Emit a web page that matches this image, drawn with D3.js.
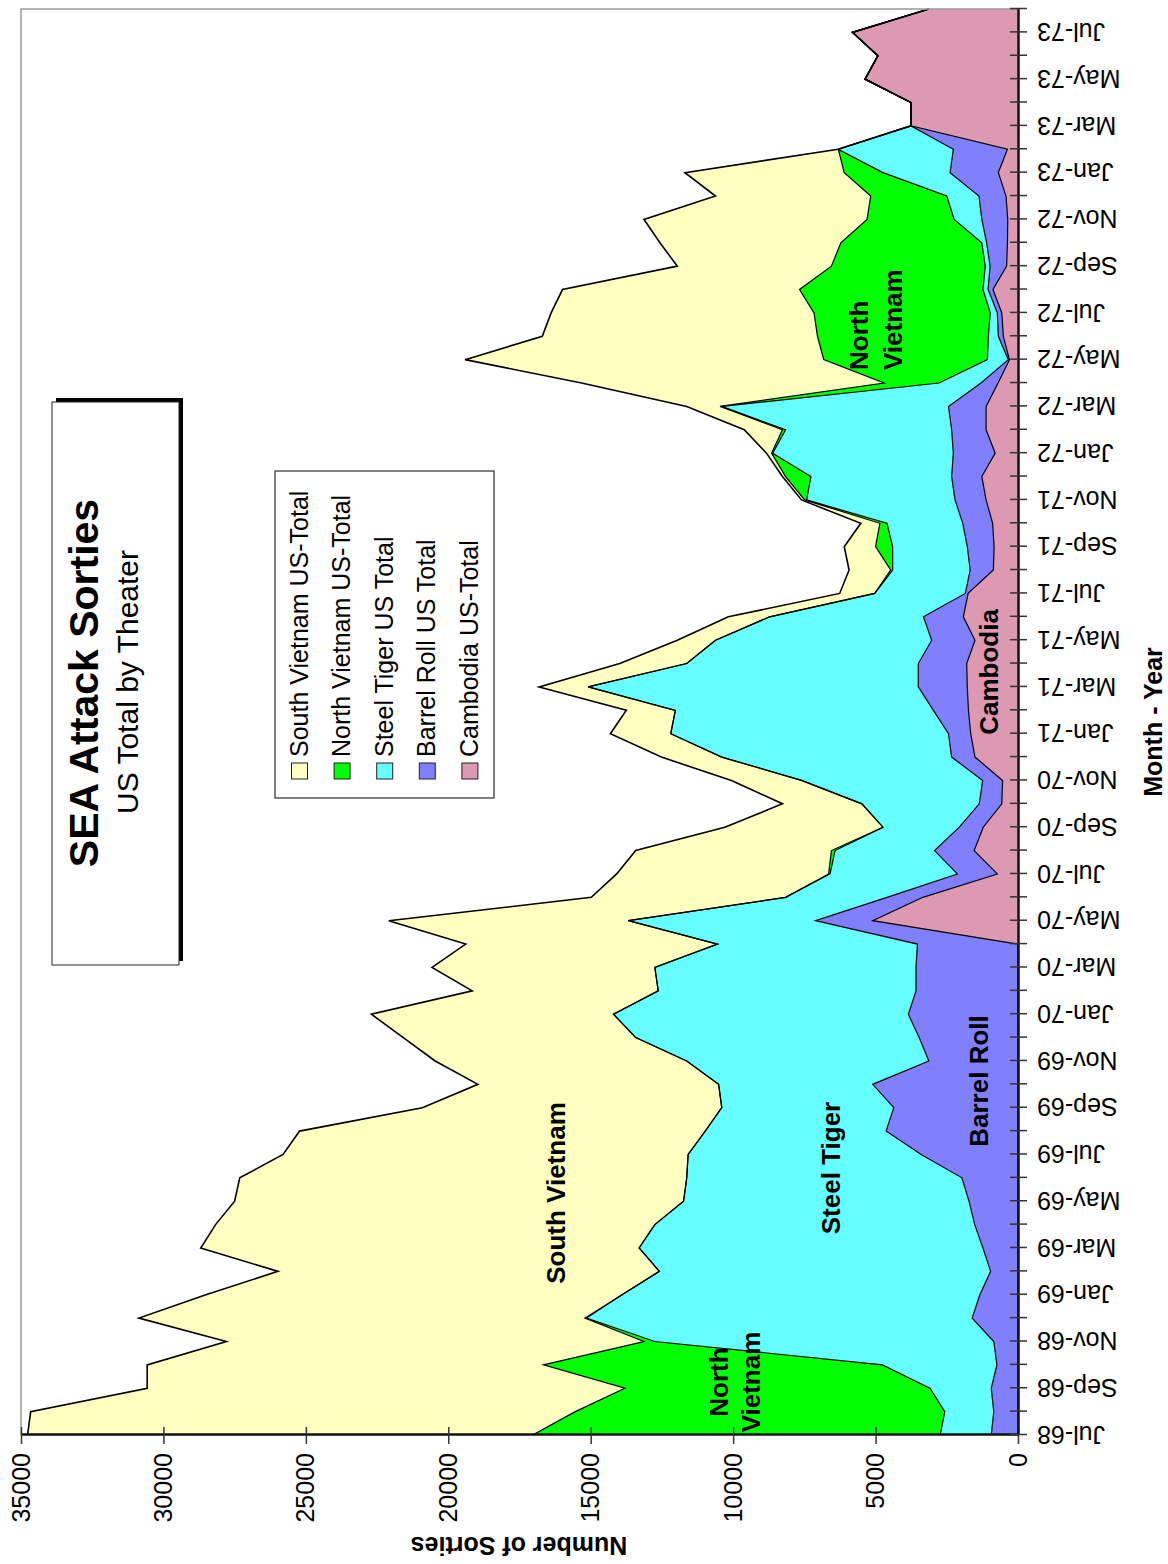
<!DOCTYPE html>
<html><head><meta charset="utf-8">
<script src="https://cdn.jsdelivr.net/npm/d3@7"></script>
<style>body{margin:0;background:#fff}svg{display:block}text{font-family:"Liberation Sans",Arial,sans-serif}</style>
</head><body>
<svg id="c" width="1168" height="1564"></svg>
<script>
const months = ["Jul-68","Aug-68","Sep-68","Oct-68","Nov-68","Dec-68",
"Jan-69","Feb-69","Mar-69","Apr-69","May-69","Jun-69","Jul-69","Aug-69","Sep-69","Oct-69","Nov-69","Dec-69",
"Jan-70","Feb-70","Mar-70","Apr-70","May-70","Jun-70","Jul-70","Aug-70","Sep-70","Oct-70","Nov-70","Dec-70",
"Jan-71","Feb-71","Mar-71","Apr-71","May-71","Jun-71","Jul-71","Aug-71","Sep-71","Oct-71","Nov-71","Dec-71",
"Jan-72","Feb-72","Mar-72","Apr-72","May-72","Jun-72","Jul-72","Aug-72","Sep-72","Oct-72","Nov-72","Dec-72",
"Jan-73","Feb-73","Mar-73","Apr-73","May-73","Jun-73","Jul-73","Aug-73"];

const southVietnam = [17730,19120,16770,13910,14660,15660,14610,13390,15390,15420,15760,15690,14220,14240,10510,8450,8830,8160,8500,6530,7820,8840,8410,6820,7440,6870,5550,2790,2460,2120,2120,1720,1720,2350,1340,1450,1230,1460,1100,670,110,110,180,1340,1170,10620,12590,9660,9230,8320,5410,6350,7830,5450,5590,0,0,0,0,0,0,0];
const northVietnam = [14310,12970,10710,11900,380,50,0,0,0,0,0,0,0,0,0,0,0,0,0,0,0,0,0,0,50,130,0,0,0,0,0,0,0,0,0,0,0,70,600,250,70,890,40,110,60,1930,5745,6000,6185,6440,5400,4950,3060,2670,1360,0,0,0,0,0,0,0];
const steelTiger = [1790,1720,2150,4020,11900,13540,12560,11630,12070,11230,10020,9660,8180,6350,6040,5410,8500,9950,10350,9050,9170,7020,6570,3560,4470,3490,2680,4120,6360,8070,9750,9060,11590,8130,7590,5400,3180,2720,2620,2660,5210,4940,6340,5830,7960,1470,735,350,250,180,170,170,970,1130,2355,4040,0,0,0,0,0,0];
const barrelRoll = [940,850,940,740,850,1610,1340,960,1230,1520,1720,1970,3400,4630,4360,5100,3130,3470,3850,3580,3580,3530,2010,1260,1405,1390,840,790,700,820,780,1230,1720,1700,1520,1400,100,815,940,1050,1090,1060,1470,1210,1320,600,40,175,155,170,580,730,910,950,1695,1900,0,0,0,0,0,0];
const cambodia = [0,0,0,0,0,0,0,0,0,0,0,0,0,0,0,0,0,0,0,0,0,0,5100,3340,725,1540,1220,570,540,1510,1660,1740,1780,1800,1510,1920,1750,865,840,890,1120,1270,800,1120,1120,700,300,515,570,880,400,370,360,420,690,370,3760,3760,5370,4920,5810,3130];

const valueTicks = [0,5000,10000,15000,20000,25000,30000,35000];
const legendNames = ["South Vietnam US-Total","North Vietnam US-Total","Steel Tiger US Total","Barrel Roll US Total","Cambodia US-Total"];
const stackKeys = ["cam","br","st","nv","sv"];
const colorMap = {sv:"#FFFFC0", nv:"#00FF00", st:"#66FFFF", br:"#8080FF", cam:"#DD99B2"};
const legendKeys = ["sv","nv","st","br","cam"];

const rows = months.map((m,i)=>({i, sv:southVietnam[i], nv:northVietnam[i], st:steelTiger[i], br:barrelRoll[i], cam:cambodia[i]}));

const svg = d3.select("#c");
svg.append("rect").attr("width",1168).attr("height",1564).attr("fill","#fff");
// whole chart is drawn in a landscape frame (1564 x 1168) and turned 90 degrees
const g = svg.append("g").attr("transform","translate(0,1564) rotate(-90)");

const x = d3.scaleLinear().domain([0, months.length-1]).range([129,1555]);
const y = d3.scaleLinear().domain([0,35000]).range([1018,21]);

const stacked = d3.stack().keys(stackKeys)(rows);
const area = d3.area().x(d=>x(d.data.i)).y0(d=>y(d[0])).y1(d=>y(d[1]));
const line = d3.line().x(d=>x(d.data.i)).y(d=>y(d[1]));

g.selectAll("path.area").data(stacked).join("path").attr("class","area")
  .attr("d",area).attr("fill",d=>colorMap[d.key]).attr("stroke","none");
g.selectAll("path.edge").data(stacked).join("path").attr("class","edge")
  .attr("d",line).attr("fill","none").attr("stroke","#000")
  .attr("stroke-width",d=>d.key==="sv"?1.6:1.2).attr("stroke-linejoin","miter");

// plot frame (gray) on far sides
g.append("path").attr("d",`M129,${y(35000)}H${x(months.length-1)}V${y(0)}`)
  .attr("fill","none").attr("stroke","#999").attr("stroke-width",1.5);

// value axis
const ya = g.append("g").attr("transform","translate(129,0)")
  .call(d3.axisLeft(y).tickValues(valueTicks).tickSizeInner(9).tickSizeOuter(0).tickPadding(9).tickFormat(d3.format("d")));
ya.select(".domain").attr("stroke","#111").attr("stroke-width",2.5);
ya.selectAll(".tick line").attr("x1",8).attr("stroke","#333").attr("stroke-width",1.5);
ya.selectAll(".tick text").attr("font-size",25).attr("fill","#000").style("font-family","'Liberation Sans',Arial,sans-serif");

// month axis
const xa = g.append("g").attr("transform",`translate(0,${y(0)})`)
  .call(d3.axisBottom(x).tickValues(d3.range(months.length)).tickSizeInner(9).tickSizeOuter(0)
    .tickFormat(i=>i%2===0?months[i]:""));
xa.select(".domain").attr("stroke","#111").attr("stroke-width",2.5);
xa.selectAll(".tick line").attr("y1",-8).attr("stroke","#333").attr("stroke-width",1.5);
xa.selectAll(".tick text").attr("font-size",25).attr("fill","#000")
  .style("font-family","'Liberation Sans',Arial,sans-serif")
  .attr("y",0).attr("dy","0.35em").attr("x",0)
  .attr("text-anchor","end").attr("transform","translate(0,19) rotate(-90)");

// axis titles
g.append("text").attr("transform","translate(27,519) rotate(-90)").attr("text-anchor","middle")
  .attr("font-size",25).attr("font-weight","bold").text("Number of Sorties");
g.append("text").attr("x",842).attr("y",1162).attr("text-anchor","middle")
  .attr("font-size",25).attr("font-weight","bold").text("Month - Year");

// in-chart labels
const lab = (t,xx,yy,anchor)=>g.append("text").attr("x",xx).attr("y",yy).attr("text-anchor",anchor||"middle")
  .attr("font-size",26).attr("font-weight","bold").text(t);
lab("South Vietnam",371,565);
lab("Steel Tiger",396,840);
lab("Barrel Roll",483,988);
lab("Cambodia",892,998);
lab("North",182,728);
lab("Vietnam",182,760);
lab("North",1194,868,"start");
lab("Vietnam",1194,902,"start");

// title box
g.append("rect").attr("x",603).attr("y",56).attr("width",563).attr("height",127).attr("fill","#000");
g.append("rect").attr("x",599).attr("y",52).attr("width",563).attr("height",127).attr("fill","#fff").attr("stroke","#222").attr("stroke-width",1);
g.append("text").attr("x",881).attr("y",98).attr("text-anchor","middle").attr("font-size",41).attr("font-weight","bold").text("SEA Attack Sorties");
g.append("text").attr("x",882).attr("y",138).attr("text-anchor","middle").attr("font-size",30).text("US Total by Theater");

// legend
g.append("rect").attr("x",766).attr("y",275).attr("width",327).attr("height",219).attr("fill","#fff").attr("stroke","#555").attr("stroke-width",1.5);
const lg = g.selectAll("g.leg").data(legendKeys).join("g").attr("class","leg")
  .attr("transform",(d,i)=>`translate(785,${299.5+i*42.6})`);
lg.append("rect").attr("x",0).attr("y",-8).attr("width",16).attr("height",16)
  .attr("fill",d=>colorMap[d]).attr("stroke","#222").attr("stroke-width",1);
lg.append("text").attr("x",22).attr("y",8).attr("font-size",25).text((d,i)=>legendNames[i]);
</script>
</body></html>
